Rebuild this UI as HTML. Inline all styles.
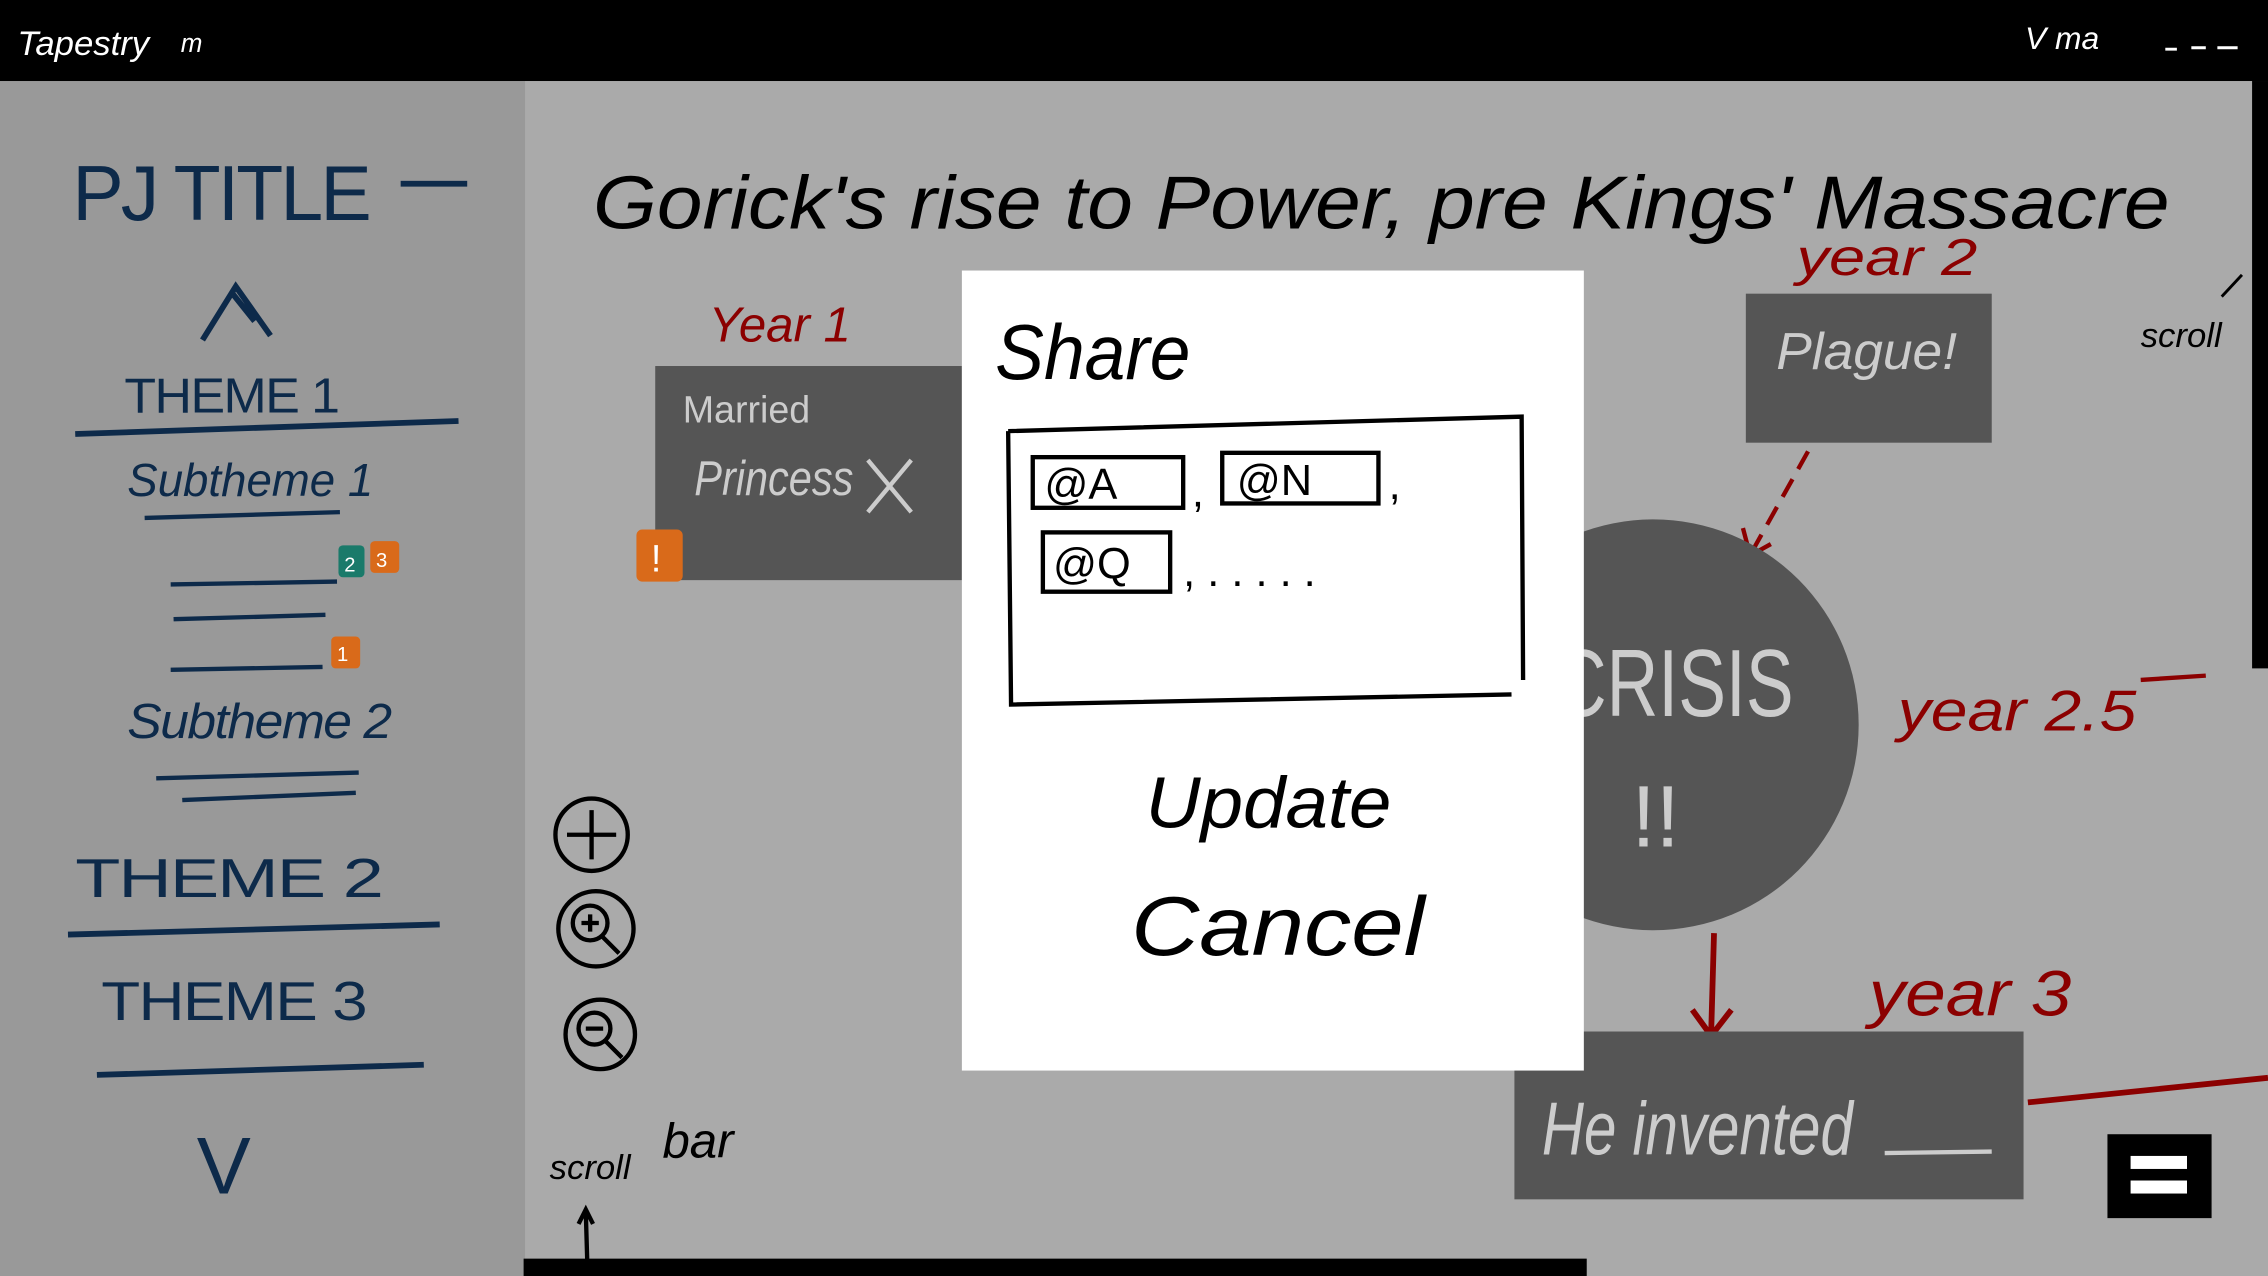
<!DOCTYPE html>
<html><head><meta charset="utf-8"><style>
html,body{margin:0;padding:0;width:2268px;height:1276px;overflow:hidden;background:#aaa}
svg{display:block}
text{font-family:"Liberation Sans",sans-serif}
</style></head><body>
<svg width="2268" height="1276" viewBox="0 0 1568 882" preserveAspectRatio="none" xmlns="http://www.w3.org/2000/svg">
<rect width="1568" height="882" fill="#aaaaaa"/>
<rect x="0" y="56" width="363" height="826" fill="#999999"/>
<rect x="0" y="0" width="1568" height="56" fill="#000"/>
<text x="12" y="38" fill="#fff" font-size="24" font-style="italic">Tapestry</text>
<text x="125" y="36" fill="#fff" font-size="18" font-style="italic">m</text>
<text x="1400" y="34" fill="#fff" font-size="22" font-style="italic">V ma</text>
<path d="M1497 34h8M1515 33h10M1533 33h14" stroke="#fff" stroke-width="2"/>
<rect x="1557" y="56" width="11" height="406" fill="#000"/>
<rect x="362" y="870" width="735" height="12" fill="#000"/>

<g fill="#0d2a4a" stroke="none">
<text x="50" y="152" font-size="54" letter-spacing="-2" textLength="205" lengthAdjust="spacingAndGlyphs">PJ TITLE</text>
<rect x="277" y="125" width="46" height="4"/>
<path d="M140 235 L163 198 L187 232 M160 202 L176 222" stroke="#0d2a4a" stroke-width="4" fill="none"/>
<text x="86" y="285" font-size="34" letter-spacing="-1" textLength="148" lengthAdjust="spacingAndGlyphs">THEME 1</text>
<path d="M52 300 Q180 296 317 291" stroke="#0d2a4a" stroke-width="4" fill="none"/>
<text x="88" y="343" font-size="32" font-style="italic" textLength="170" lengthAdjust="spacingAndGlyphs">Subtheme 1</text>
<path d="M100 358 L235 354" stroke="#0d2a4a" stroke-width="3"/>
<path d="M118 404 L233 402 M120 428 L225 425 M118 463 L223 461" stroke="#0d2a4a" stroke-width="3"/>
<rect x="234" y="377" width="18" height="22" rx="3" fill="#1a7a6a"/>
<rect x="256" y="374" width="20" height="22" rx="3" fill="#d96a1a"/>
<text x="238" y="395" font-size="14" fill="#fff">2</text>
<text x="260" y="392" font-size="14" fill="#fff">3</text>
<rect x="229" y="440" width="20" height="22" rx="3" fill="#d96a1a"/>
<text x="233" y="457" font-size="14" fill="#fff">1</text>
<text x="88" y="510" font-size="34" font-style="italic" letter-spacing="-1" textLength="182" lengthAdjust="spacingAndGlyphs">Subtheme 2</text>
<path d="M108 538 L248 534 M126 553 L246 548" stroke="#0d2a4a" stroke-width="3"/>
<text x="52" y="620" font-size="38" letter-spacing="-1" textLength="212" lengthAdjust="spacingAndGlyphs">THEME 2</text>
<path d="M47 646 L304 639" stroke="#0d2a4a" stroke-width="4"/>
<text x="70" y="705" font-size="38" letter-spacing="-1" textLength="183" lengthAdjust="spacingAndGlyphs">THEME 3</text>
<path d="M67 743 L293 736" stroke="#0d2a4a" stroke-width="4"/>
<text x="136" y="825" font-size="56">V</text>
</g>

<text x="410" y="158" font-size="52" font-style="italic" fill="#000" textLength="1090" lengthAdjust="spacingAndGlyphs">Gorick's rise to Power, pre Kings' Massacre</text>

<g stroke="#000" stroke-width="3" fill="none">
<circle cx="409" cy="577" r="25"/><path d="M409 560v34M392 577h34"/>
<circle cx="412" cy="642" r="26"/><circle cx="408" cy="638" r="12"/><path d="M416 647l12 12M408 632v12M402 638h12"/>
<circle cx="415" cy="715" r="24"/><circle cx="411" cy="711" r="11"/><path d="M419 720l11 11M405 711h12"/>
<path d="M406 872 L405 838 M400 846 L405 836 L410 846"/>
</g>
<text x="380" y="815" font-size="24" font-style="italic" fill="#000">scroll</text>
<text x="458" y="800" font-size="34" font-style="italic" fill="#000">bar</text>

<text x="490" y="236" font-size="34" font-style="italic" fill="#8b0000">Year 1</text>
<rect x="453" y="253" width="212" height="148" fill="#555"/>
<text x="472" y="292" font-size="26" fill="#ccc">Married</text>
<text x="480" y="342" font-size="34" font-style="italic" fill="#ccc" textLength="110" lengthAdjust="spacingAndGlyphs">Princess</text>
<path d="M600 318l30 36M630 318l-30 36" stroke="#ccc" stroke-width="3"/>
<rect x="440" y="366" width="32" height="36" rx="4" fill="#d96a1a"/>
<text x="450" y="395" font-size="26" fill="#fff">!</text>

<text x="1242" y="190" font-size="36" font-style="italic" fill="#8b0000" textLength="125" lengthAdjust="spacingAndGlyphs">year 2</text>
<rect x="1207" y="203" width="170" height="103" fill="#555"/>
<text x="1228" y="255" font-size="36" font-style="italic" fill="#ccc" textLength="125" lengthAdjust="spacingAndGlyphs">Plague!</text>
<text x="1480" y="240" font-size="24" font-style="italic" fill="#000">scroll</text>
<path d="M1550 190 L1536 205" stroke="#000" stroke-width="2"/>
<path d="M1250 312 L1212 380 M1205 365 L1210 384 L1228 374" stroke="#8b0000" stroke-width="3" fill="none" stroke-dasharray="14 8"/>

<circle cx="1143" cy="501" r="142" fill="#555"/>
<text x="1075" y="495" font-size="66" fill="#ccc" textLength="165" lengthAdjust="spacingAndGlyphs">CRISIS</text>
<text x="1128" y="585" font-size="60" fill="#ccc">!!</text>
<text x="1312" y="505" font-size="40" font-style="italic" fill="#8b0000" textLength="165" lengthAdjust="spacingAndGlyphs">year 2.5</text>
<path d="M1480 470 L1525 467" stroke="#8b0000" stroke-width="3"/>
<path d="M1185 645 L1183 715 M1170 698 L1183 716 L1197 698" stroke="#8b0000" stroke-width="4" fill="none"/>
<text x="1292" y="702" font-size="44" font-style="italic" fill="#8b0000" textLength="140" lengthAdjust="spacingAndGlyphs">year 3</text>
<rect x="1047" y="713" width="352" height="116" fill="#555"/>
<text x="1066" y="798" font-size="52" font-style="italic" fill="#ccc" textLength="215" lengthAdjust="spacingAndGlyphs">He invented</text>
<path d="M1303 797 L1377 796" stroke="#ccc" stroke-width="3"/>
<path d="M1402 762 L1568 745" stroke="#8b0000" stroke-width="4"/>
<rect x="1457" y="784" width="72" height="58" fill="#000"/>
<rect x="1473" y="799" width="39" height="9" fill="#fff"/>
<rect x="1473" y="816" width="39" height="9" fill="#fff"/>

<rect x="665" y="187" width="430" height="553" fill="#fff"/>
<text x="688" y="262" font-size="54" font-style="italic" fill="#000" textLength="135" lengthAdjust="spacingAndGlyphs">Share</text>
<g stroke="#000" fill="none">
<path d="M697 298 L1052 288 L1053 470 M697 298 L699 487 L1045 480" stroke-width="3"/>
<rect x="714" y="316" width="104" height="35" stroke-width="3"/>
<rect x="845" y="313" width="108" height="35" stroke-width="3"/>
<rect x="721" y="368" width="88" height="41" stroke-width="3"/>
</g>
<text x="722" y="345" font-size="30" fill="#000">@A</text>
<text x="855" y="342" font-size="30" fill="#000">@N</text>
<text x="728" y="400" font-size="30" fill="#000">@Q</text>
<text x="824" y="350" font-size="30" fill="#000">,</text>
<text x="960" y="345" font-size="30" fill="#000">,</text>
<text x="818" y="405" font-size="30" fill="#000">, . . . . .</text>
<text x="792" y="572" font-size="50" font-style="italic" fill="#000" textLength="170" lengthAdjust="spacingAndGlyphs">Update</text>
<text x="782" y="660" font-size="58" font-style="italic" fill="#000" textLength="203" lengthAdjust="spacingAndGlyphs">Cancel</text>
</svg>
</body></html>
